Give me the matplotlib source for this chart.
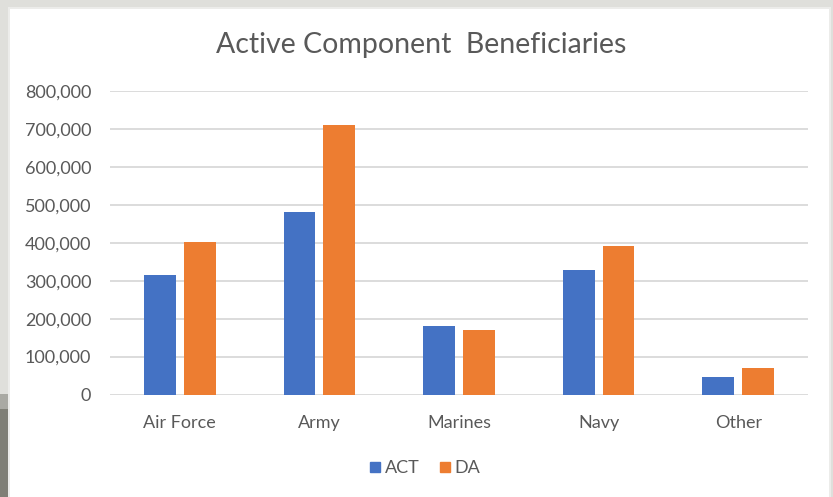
import matplotlib
matplotlib.use("Agg")
import matplotlib.pyplot as plt
from matplotlib.patches import Rectangle
from matplotlib.lines import Line2D
from matplotlib.ticker import FuncFormatter
import numpy as np

categories = ["Air Force", "Army", "Marines", "Navy", "Other"]
act = [316000, 480000, 180000, 327000, 45000]
da = [402000, 711000, 171000, 391000, 71000]
series_names = ["ACT", "DA"]
yticks = [0, 100000, 200000, 300000, 400000, 500000, 600000, 700000, 800000]

W, H = 833, 497
fig = plt.figure(figsize=(W / 100, H / 100), dpi=100)
fig.patch.set_facecolor("#dfdfdb")

def px(x0, y0, x1, y1, color, z=0):
    fig.patches.append(Rectangle((x0 / W, 1 - y1 / H), (x1 - x0) / W, (y1 - y0) / H,
                                 transform=fig.transFigure, facecolor=color,
                                 edgecolor="none", zorder=z))

# white chart panel with faint border
px(8, 7, 831, H, "#ececea", -2)
px(10, 9, 829, H, "#ffffff", -2)
# left strip darker area at bottom
px(0, 394, 8, 409, "#a9a9a3", -2)
px(0, 409, 8, H, "#7f7f76", -2)

font = ["Lato", "DejaVu Sans"]
text_color = "#595959"

ax = fig.add_axes([110 / W, 1 - 394.5 / H, (808 - 110) / W, (394.5 - 91) / H])
ax.set_zorder(2)
ax.set_facecolor("none")
x = np.arange(len(categories))
bw = 0.228
off = 0.143
ax.bar(x - off, act, width=bw, color="#4472c4", zorder=3, label=series_names[0])
ax.bar(x + off, da, width=bw, color="#ed7d31", zorder=3, label=series_names[1])
ax.set_xlim(-0.5, len(categories) - 0.5)
ax.set_ylim(0, 800000)
ax.set_yticks(yticks)
ax.yaxis.set_major_formatter(FuncFormatter(lambda v, p: f"{int(v):,}"))
ax.set_xticks(x)
ax.set_xticklabels(categories)
ax.grid(axis="y", color="#d9d9d9", linewidth=1.3, zorder=0)
ax.set_axisbelow(True)
for s in ax.spines.values():
    s.set_visible(False)
ax.tick_params(axis="both", length=0, labelsize=13, labelcolor=text_color)
ax.tick_params(axis="y", pad=13.5)
ax.tick_params(axis="x", pad=15)
for lab in ax.get_xticklabels() + ax.get_yticklabels():
    lab.set_family(font)

fig.text(421 / W, 1 - 45 / H, "Active Component  Beneficiaries", ha="center", va="center",
         fontsize=20.5, color=text_color, family=font)

handles = [Line2D([], [], marker="s", linestyle="none", markersize=7, color="#4472c4"),
           Line2D([], [], marker="s", linestyle="none", markersize=7, color="#ed7d31")]
leg = fig.legend(handles, series_names, loc="center", bbox_to_anchor=(423 / W, 1 - 468 / H),
                 ncol=2, frameon=False, handletextpad=0.05, columnspacing=0.9,
                 handlelength=1.0, prop={"family": font, "size": 13})
for t in leg.get_texts():
    t.set_color(text_color)

fig.savefig("out.png", dpi=100)
